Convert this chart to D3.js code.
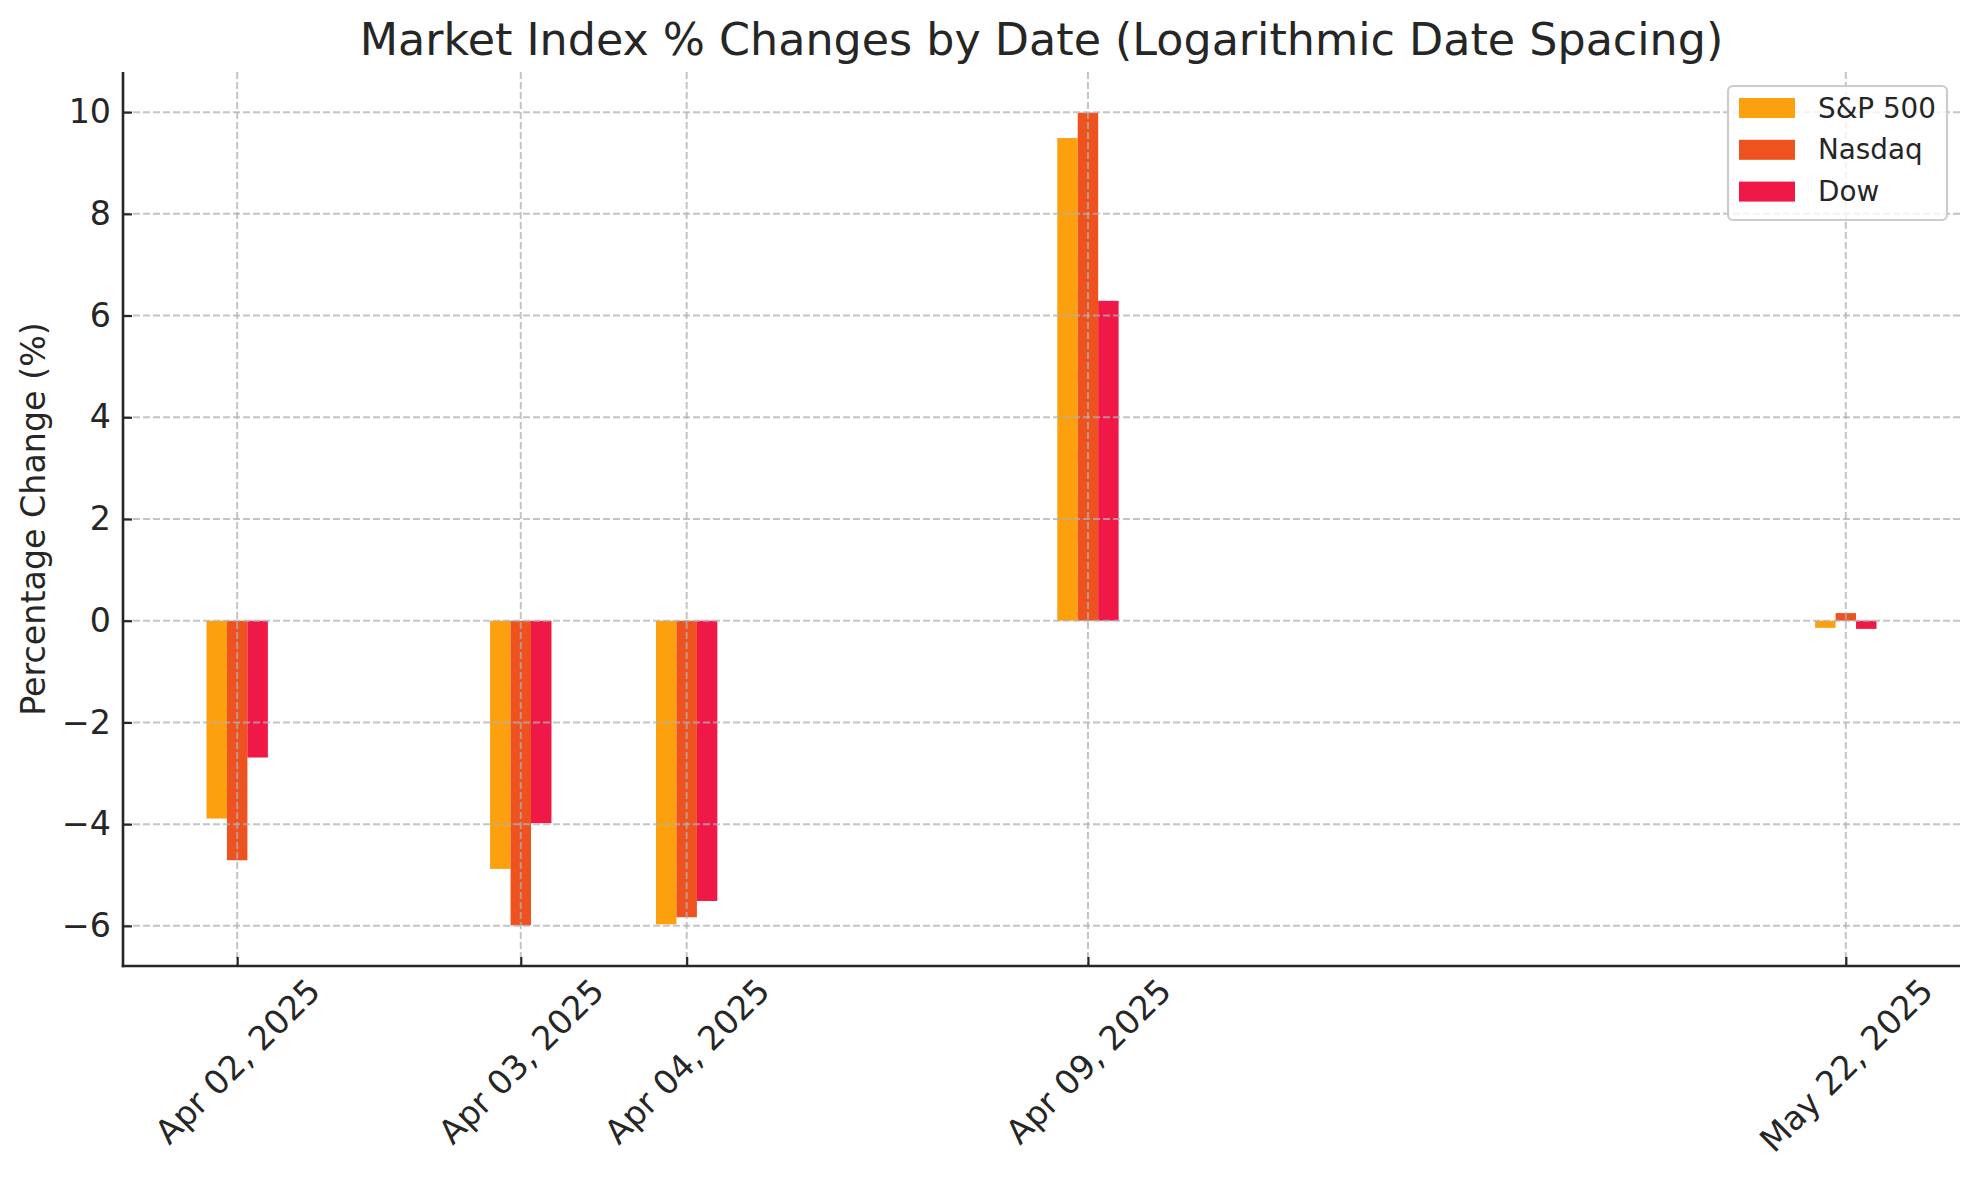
<!DOCTYPE html>
<html>
<head>
<meta charset="utf-8">
<script src="https://cdn.jsdelivr.net/npm/d3@7"></script>
<style>
  html, body { margin: 0; padding: 0; background: #fff; }
  svg { display: block; font-family: "DejaVu Sans", sans-serif; }
</style>
</head>
<body>
<svg id="chart" width="1979" height="1180"></svg>
<script>
// ---- data ----
const dates = ["2025-04-02", "2025-04-03", "2025-04-04", "2025-04-09", "2025-05-22"];
const dateLabels = ["Apr 02, 2025", "Apr 03, 2025", "Apr 04, 2025", "Apr 09, 2025", "May 22, 2025"];
const seriesNames = ["S&P 500", "Nasdaq", "Dow"];
const sp500 = [-3.89, -4.88, -5.97, 9.49, -0.14];
const nasdaq = [-4.71, -5.99, -5.83, 9.99, 0.15];
const dow = [-2.69, -3.98, -5.51, 6.29, -0.16];
const yTicks = [-6, -4, -2, 0, 2, 4, 6, 8, 10];
const baseDate = "2025-04-01";

const colors = ["#fca10d", "#ee521f", "#ef1846"];
const seriesValues = [sp500, nasdaq, dow];

// ---- layout ----
const svg = d3.select("#chart");
const mLeft = 123, mRight = 1960, mTop = 72, mBottom = 966;
const textColor = "#262626";
const tickFont = 33.3;

// log-spaced x positions: ln(days since base)
const parse = d3.utcParse("%Y-%m-%d");
const base = parse(baseDate);
const xVals = dates.map(d => Math.log(d3.utcDay.count(base, parse(d))));
const barW = 0.05;
const ext = [d3.min(xVals) - 1.5 * barW, d3.max(xVals) + 1.5 * barW];
const xpad = (ext[1] - ext[0]) * 0.05;
const x = d3.scaleLinear().domain([ext[0] - xpad, ext[1] + xpad]).range([mLeft, mRight]);

const yMin = Math.min(0, d3.min(seriesValues.flat()));
const yMax = Math.max(0, d3.max(seriesValues.flat()));
const ypad = (yMax - yMin) * 0.05;
const y = d3.scaleLinear().domain([yMin - ypad, yMax + ypad]).range([mBottom, mTop]);

// ---- bars ----
const barsG = svg.append("g");
seriesValues.forEach((vals, si) => {
  barsG.selectAll(null)
    .data(vals.map((v, i) => ({ v, xv: xVals[i] + (si - 1) * barW })))
    .enter().append("rect")
    .attr("x", d => x(d.xv - barW / 2))
    .attr("width", d => x(d.xv + barW / 2) - x(d.xv - barW / 2))
    .attr("y", d => y(Math.max(0, d.v)))
    .attr("height", d => Math.abs(y(d.v) - y(0)))
    .attr("fill", colors[si]);
});

// ---- grid (above bars) ----
const gridG = svg.append("g")
  .attr("stroke", "#b0b0b0").attr("stroke-opacity", 0.75)
  .attr("stroke-width", 2).attr("stroke-dasharray", "7,3");
gridG.selectAll(null).data(yTicks).enter().append("line")
  .attr("x1", mLeft).attr("x2", mRight)
  .attr("y1", d => y(d)).attr("y2", d => y(d));
gridG.selectAll(null).data(xVals).enter().append("line")
  .attr("y1", mTop).attr("y2", mBottom)
  .attr("x1", d => x(d)).attr("x2", d => x(d));

// ---- axes ----
const yAxis = d3.axisLeft(y).tickValues(yTicks).tickSizeInner(-9).tickSizeOuter(0)
  .tickPadding(12).tickFormat(d => d < 0 ? "\u2212" + Math.abs(d) : String(d));
const yG = svg.append("g").attr("transform", `translate(${mLeft},0)`).call(yAxis);
yG.select(".domain").remove();
yG.selectAll(".tick line").attr("stroke", textColor).attr("stroke-width", 2.2);
yG.selectAll(".tick text").attr("fill", textColor).attr("font-size", tickFont)
  .attr("font-family", "DejaVu Sans");

const xAxis = d3.axisBottom(x).tickValues(xVals).tickSizeInner(-9).tickSizeOuter(0)
  .tickFormat((d, i) => dateLabels[i]);
const xG = svg.append("g").attr("transform", `translate(0,${mBottom})`).call(xAxis);
xG.select(".domain").remove();
xG.selectAll(".tick line").attr("stroke", textColor).attr("stroke-width", 2.2);
xG.selectAll(".tick text").each(function () {
  const t = d3.select(this);
  t.attr("fill", textColor).attr("font-size", tickFont).attr("font-family", "DejaVu Sans")
    .attr("text-anchor", "middle").attr("dy", null).attr("dominant-baseline", "central");
  const W = this.getComputedTextLength();
  const H = tickFont * 1.17;
  const bh = (W + H) / Math.SQRT2;
  t.attr("y", null).attr("transform", `translate(0,${5 + bh / 2}) rotate(-45)`);
});

// spines
svg.append("line").attr("x1", mLeft).attr("x2", mLeft).attr("y1", mTop).attr("y2", mBottom + 1.3)
  .attr("stroke", textColor).attr("stroke-width", 2.6);
svg.append("line").attr("x1", mLeft - 1.3).attr("x2", mRight).attr("y1", mBottom).attr("y2", mBottom)
  .attr("stroke", textColor).attr("stroke-width", 2.6);

// ---- title & labels ----
svg.append("text").attr("x", (mLeft + mRight) / 2).attr("y", 55)
  .attr("text-anchor", "middle").attr("font-size", 44.4).attr("fill", textColor)
  .text("Market Index % Changes by Date (Logarithmic Date Spacing)");

svg.append("text").attr("transform", `translate(45,${(mTop + mBottom) / 2}) rotate(-90)`)
  .attr("text-anchor", "middle").attr("font-size", 33.3).attr("fill", textColor)
  .text("Percentage Change (%)");

// ---- legend ----
const lg = svg.append("g");
lg.append("rect").attr("x", 1728).attr("y", 86).attr("width", 219).attr("height", 134)
  .attr("rx", 5).attr("fill", "#fff").attr("fill-opacity", 0.8)
  .attr("stroke", "#cccccc").attr("stroke-width", 2.2);
seriesNames.forEach((name, i) => {
  const yy = 98 + i * 41.8;
  lg.append("rect").attr("x", 1739).attr("y", yy).attr("width", 56).attr("height", 20)
    .attr("fill", colors[i]);
  lg.append("text").attr("x", 1818).attr("y", yy + 10).attr("dominant-baseline", "central")
    .attr("font-size", 27.8).attr("fill", textColor).text(name);
});
</script>
</body>
</html>
